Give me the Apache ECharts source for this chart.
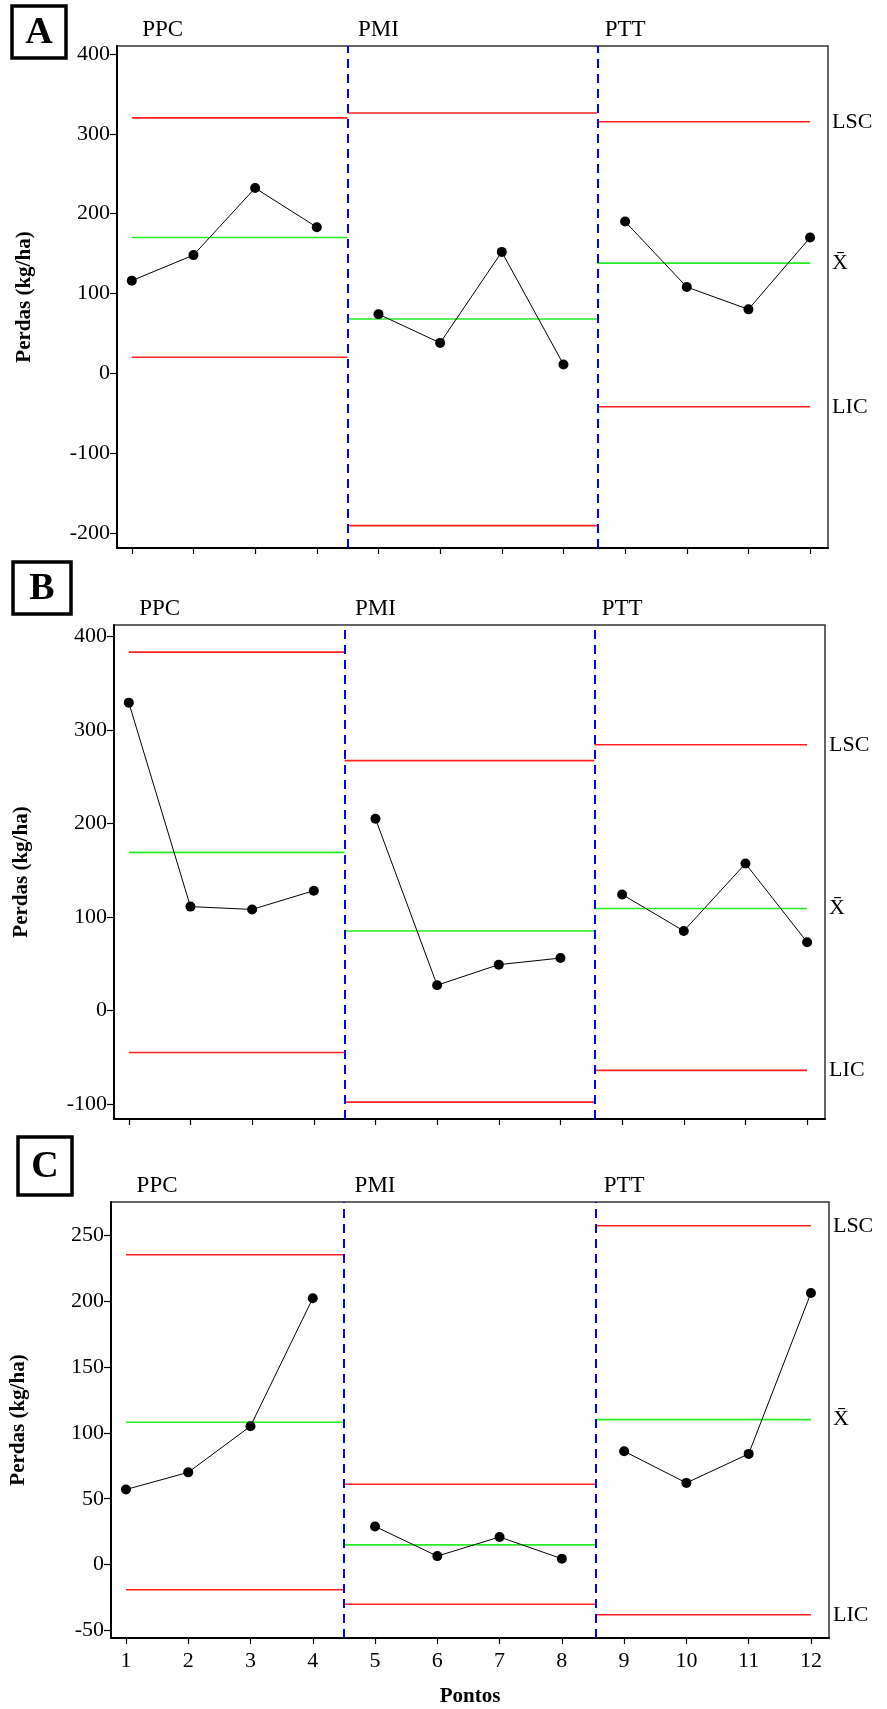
<!DOCTYPE html>
<html>
<head>
<meta charset="utf-8">
<script src="https://cdn.jsdelivr.net/npm/echarts@6/dist/echarts.min.js"></script>
<style>
html,body{margin:0;padding:0;background:#fff;}
#chart{width:887px;height:1709px;}
</style>
</head>
<body>
<div id="chart"></div>
<script>
// ---------- data ----------
const points = [1,2,3,4,5,6,7,8,9,10,11,12];
const xTickLabels = ['1','2','3','4','5','6','7','8','9','10','11','12'];
const phases = ['PPC','PMI','PTT'];
const phaseStart = [1, 4.5, 8.55];
const phaseEnd = [4.5, 8.55, 12];
const phaseIdx = [[0,4],[4,8],[8,12]];
const phaseLabelX = [1.5, 5, 9];
const dividers = [4.5, 8.55];
const panelLetters = ['A','B','C'];
const limitNames = ['LSC','X\u0304','LIC'];

const valuesA = [116,148,232,183,74,38,152,11,190,108,80,170];
const lscA = [320,326,315];
const meanA = [170,68,138];
const licA = [20,-191,-42];
const yTicksA = [-200,-100,0,100,200,300,400];

const valuesB = [329,111,108,128,205,27,49,56,124,85,157,73];
const lscB = [383,267,284];
const meanB = [169,85,109];
const licB = [-45,-98,-64];
const yTicksB = [-100,0,100,200,300,400];

const valuesC = [57,70,105,202,29,6.5,21,4.5,86,62,84,206];
const lscC = [235,61,257];
const meanC = [108,15,110];
const licC = [-19,-30,-38];
const yTicksC = [-50,0,50,100,150,200,250];

const yTitle = 'Perdas (kg/ha)';
const xTitle = 'Pontos';

// ---------- layout ----------
const FONT = 'Liberation Serif';
const panels = [
  {values: valuesA, lsc: lscA, mean: meanA, lic: licA, ticks: yTicksA, ymin: -219, ymax: 410,
   grid: {left: 117, top: 46, width: 711, height: 502}, box: [12,6,54,52]},
  {values: valuesB, lsc: lscB, mean: meanB, lic: licB, ticks: yTicksB, ymin: -116, ymax: 412,
   grid: {left: 114, top: 625, width: 711, height: 494}, box: [13,562,58,52]},
  {values: valuesC, lsc: lscC, mean: meanC, lic: licC, ticks: yTicksC, ymin: -55.6, ymax: 275,
   grid: {left: 111, top: 1202, width: 718, height: 436}, box: [18,1137,54,58]}
];

const grids = [], xAxes = [], yAxes = [], series = [];
panels.forEach((p, i) => {
  grids.push(Object.assign({show: true, borderColor: '#333', borderWidth: 1.5, backgroundColor: 'transparent'}, p.grid));
  const isLast = i === panels.length - 1;
  xAxes.push({
    type: 'value', gridIndex: i, min: 0.76, max: 12.29,
    axisLine: {show: true, onZero: false, lineStyle: {color: '#000', width: 2}},
    axisTick: {show: true, customValues: points, length: 6, lineStyle: {color: '#000', width: 1.2}},
    axisLabel: {show: isLast, customValues: points, formatter: v => xTickLabels[points.indexOf(v)] || '',
      fontFamily: FONT, fontSize: 22, color: '#000', margin: 12},
    splitLine: {show: false},
    name: isLast ? xTitle : '', nameLocation: 'middle', nameGap: 48,
    nameTextStyle: {fontFamily: FONT, fontSize: 21, fontWeight: 'bold', color: '#000'}
  });
  yAxes.push({
    type: 'value', gridIndex: i, min: p.ymin, max: p.ymax,
    axisLine: {show: true, lineStyle: {color: '#000', width: 2}},
    axisTick: {show: true, customValues: p.ticks, length: 7, lineStyle: {color: '#000', width: 1.2}},
    axisLabel: {customValues: p.ticks, fontFamily: FONT, fontSize: 22, color: '#000', margin: 7},
    splitLine: {show: false},
    name: yTitle, nameLocation: 'middle', nameGap: 82, nameRotate: 90,
    nameTextStyle: {fontFamily: FONT, fontSize: 21, fontWeight: 'bold', color: '#000'}
  });
  // data lines per phase
  phaseIdx.forEach((r, k) => {
    const d = [];
    for (let j = r[0]; j < r[1]; j++) d.push([points[j], p.values[j]]);
    series.push({
      type: 'line', xAxisIndex: i, yAxisIndex: i, data: d,
      symbol: 'circle', symbolSize: 10, z: 5,
      itemStyle: {color: '#000'}, lineStyle: {color: '#000', width: 1}
    });
  });
  // control limits per phase
  const sets = [[p.lsc, '#ff2020', 0], [p.mean, '#22ee22', 1], [p.lic, '#ff2020', 2]];
  sets.forEach(([arr, col, nameIdx]) => {
    arr.forEach((v, k) => {
      const s = {
        type: 'line', xAxisIndex: i, yAxisIndex: i,
        data: [[phaseStart[k], v], [phaseEnd[k], v]],
        symbol: 'none', lineStyle: {color: col, width: 1.6}, z: 3
      };
      if (k === phases.length - 1) {
        s.endLabel = {show: true, formatter: limitNames[nameIdx], distance: 22,
          fontFamily: FONT, fontSize: 22, color: '#000'};
      }
      series.push(s);
    });
  });
  // phase dividers
  series.push({
    type: 'line', xAxisIndex: i, yAxisIndex: i, data: [],
    markLine: {
      silent: true, symbol: 'none', label: {show: false},
      lineStyle: {color: '#0000ff', width: 2, type: [9, 6]},
      data: dividers.map(x => ({xAxis: x}))
    }
  });
});

const chart = echarts.init(document.getElementById('chart'), null, {renderer: 'canvas'});
chart.setOption({
  animation: false,
  backgroundColor: '#fff',
  grid: grids, xAxis: xAxes, yAxis: yAxes, series: series
});

// panel letters and phase labels
const graphic = [];
panels.forEach((p, i) => {
  const b = p.box;
  graphic.push({type: 'rect', shape: {x: b[0], y: b[1], width: b[2], height: b[3]},
    style: {fill: '#fff', stroke: '#000', lineWidth: 3.5}});
  graphic.push({type: 'text', x: b[0] + b[2] / 2, y: b[1] + b[3] / 2 + 1,
    style: {text: panelLetters[i], font: 'bold 38px "' + FONT + '"', fill: '#000', align: 'center', verticalAlign: 'middle'}});
  phases.forEach((ph, k) => {
    const px = chart.convertToPixel({xAxisIndex: i}, phaseLabelX[k]);
    graphic.push({type: 'text', x: px, y: p.grid.top - 16,
      style: {text: ph, font: '23px "' + FONT + '"', fill: '#000', align: 'center', verticalAlign: 'middle'}});
  });
});
chart.setOption({graphic: graphic});
</script>
</body>
</html>
